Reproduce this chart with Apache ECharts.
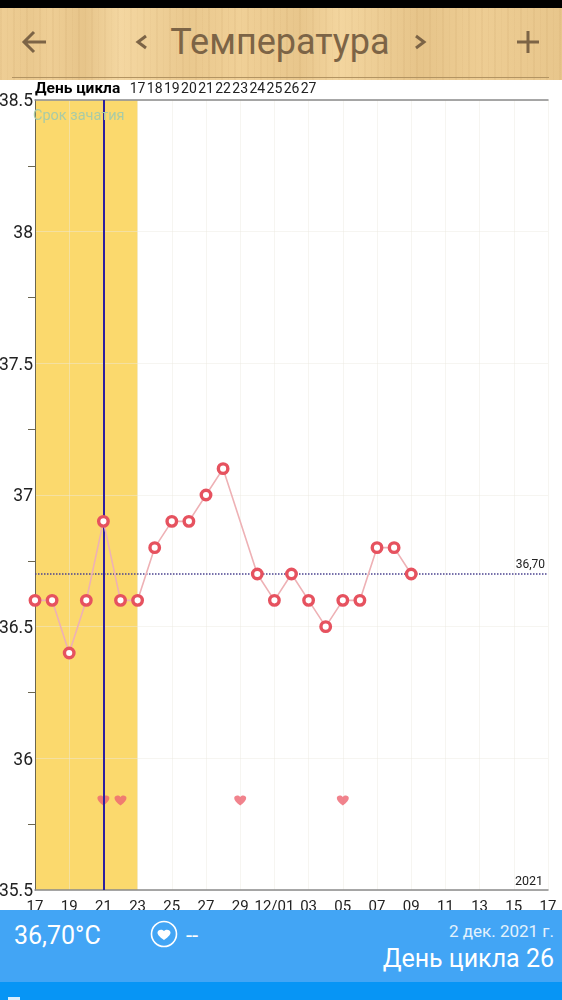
<!DOCTYPE html>
<html>
<head>
<meta charset="utf-8">
<script src="https://cdn.jsdelivr.net/npm/echarts@6/dist/echarts.min.js"></script>
<style>
  html, body { margin: 0; padding: 0; background: #fff; font-family: Roboto, sans-serif; }
  #page { position: relative; width: 562px; height: 1000px; overflow: hidden; }
  #status { position: absolute; left: 0; top: 0; width: 562px; height: 8px; background: #000; }
  #wood {
    position: absolute; left: 0; top: 8px; width: 562px; height: 72px;
    background:
      linear-gradient(90deg, rgba(160,110,40,.02) 0, rgba(160,110,40,.08) 30px, rgba(160,110,40,.02) 50px, rgba(160,110,40,.12) 84px, rgba(255,235,190,.25) 120px, rgba(160,110,40,.08) 190px, rgba(160,110,40,0) 240px, rgba(160,110,40,.1) 300px, rgba(255,235,190,.2) 340px, rgba(160,110,40,.12) 420px, rgba(160,110,40,.03) 480px, rgba(160,110,40,.1) 562px),
      repeating-linear-gradient(90deg, rgba(150,100,40,.06) 0 2px, rgba(150,100,40,0) 2px 7px, rgba(150,100,40,.04) 7px 8px, rgba(150,100,40,0) 8px 13px),
      #f0d097;
  }
  #rule { position: absolute; left: 12px; top: 69px; width: 537px; height: 1px; background: #b39462; }
  #title { position: absolute; left: 0; top: 12px; width: 560px; text-align: center; font-size: 36px; line-height: 44px; color: #7c6446; }
  #wood svg { position: absolute; left: 0; top: 0; }
  #chart { position: absolute; left: 0; top: 80px; width: 562px; height: 840px; }
  #info { position: absolute; left: 0; top: 910px; width: 562px; height: 72px; background: #42a5f5; color: #fff; }
  #temp { position: absolute; left: 14px; top: 10px; font-size: 25px; line-height: 32px; }
  #info svg { position: absolute; left: 150px; top: 10px; }
  #mood { position: absolute; left: 186px; top: 10px; font-size: 22px; line-height: 32px; }
  #date { position: absolute; right: 8px; top: 10px; font-size: 17px; line-height: 22px; color: #e3f2fd; }
  #cycle { position: absolute; right: 8px; top: 33px; font-size: 25px; line-height: 32px; }
  #strip { position: absolute; left: 0; top: 982px; width: 562px; height: 18px; background: #0795f5; }
  #stub { position: absolute; left: 8px; top: 15px; width: 12px; height: 3px; background: #d8eefd; }
</style>
</head>
<body>
<div id="page">
  <div id="chart"></div>
  <div id="status"></div>
  <div id="wood">
    <div id="rule"></div>
    <div id="title">Температура</div>
    <svg width="562" height="72" fill="none" stroke="#7c6446" stroke-width="3">
      <path d="M46 34H24M34 24L24 34L34 44"/>
      <path d="M146 28L138 34L146 40"/>
      <path d="M416 28L424 34L416 40"/>
      <path d="M517 34H539M528 23V45"/>
    </svg>
  </div>
  <div id="info">
    <div id="temp">36,70°C</div>
    <svg width="28" height="28" viewBox="0 0 28 28">
      <circle cx="14" cy="14" r="12.5" fill="none" stroke="#fff" stroke-width="1.6"/>
      <path d="M14 20C9 16.5 7.5 14.5 7.5 12.5C7.5 10 11.5 8.500 14 11C16.500 8.500 20.500 10 20.500 12.500C20.500 14.500 19 16.500 14 20Z" fill="#fff"/>
    </svg>
    <div id="mood">--</div>
    <div id="date">2 дек. 2021 г.</div>
    <div id="cycle">День цикла 26</div>
  </div>
  <div id="strip"><div id="stub"></div></div>
</div>
<script>
// calendar days, 17 Nov - 17 Dec 2021
const days = ["17", "18", "19", "20", "21", "22", "23", "24", "25", "26", "27", "28", "29", "30",
  "12/01", "02", "03", "04", "05", "06", "07", "08", "09", "10", "11", "12", "13", "14", "15", "16", "17"];
// cycle day shown along the top, empty where the app shows nothing
const cycleDays = ["", "", "", "", "", "", "17", "18", "19", "20", "21", "22", "23", "24", "25", "26", "27",
  "", "", "", "", "", "", "", "", "", "", "", "", "", ""];
// temperature per day, null = not measured
const temps = [36.6, 36.6, 36.4, 36.6, 36.9, 36.6, 36.6, 36.8, 36.9, 36.9, 37.0, 37.1, null, 36.7,
  36.6, 36.7, 36.6, 36.5, 36.6, 36.6, 36.8, 36.8, 36.7];
const heartDays = [4, 5, 12, 18];
const heartLevel = 35.84;
const coverline = 36.7;
const fertileStart = 0;
const fertileEnd = 6;
const ovulationDay = 4;

const heartPath = "path://M50 90C20 68 4 52 4 32C4 12 34 2 50 24C66 2 96 12 96 32C96 52 80 68 50 90Z";

const chart = echarts.init(document.getElementById("chart"));

chart.setOption({
  animation: false,
  textStyle: { fontFamily: "Roboto" },
  grid: { left: 35, right: 14, top: 20, bottom: 30, outerBoundsMode: "none" },
  graphic: [
    { type: "text", left: 35, top: 1, z: 10, style: { text: "День цикла", font: "bold 15.5px Roboto", fill: "#000" } },
    { type: "text", left: 33, top: 29, z: 10, style: { text: "Срок зачатия", font: "14.5px Roboto", fill: "#a9cba6" } },
    { type: "text", right: 19, top: 795, z: 10, style: { text: "2021", font: "12.5px Roboto", fill: "#222" } }
  ],
  xAxis: [
    {
      type: "category",
      data: days,
      boundaryGap: false,
      z: 2,
      axisLine: { lineStyle: { color: "#8a8a8a", width: 1.5 } },
      axisTick: { show: false },
      axisLabel: { interval: 1, color: "#222", fontSize: 15, margin: 10 },
      splitLine: { show: true, interval: 1, lineStyle: { color: "rgba(236,232,225,.45)", width: 1 } }
    },
    {
      type: "category",
      data: cycleDays,
      position: "top",
      boundaryGap: false,
      z: 2,
      axisLine: { lineStyle: { color: "#8a8a8a", width: 1.5 } },
      axisTick: { show: false },
      axisLabel: { interval: 0, color: "#222", fontSize: 14, margin: 4 },
      splitLine: { show: false }
    }
  ],
  yAxis: {
    type: "value",
    min: 35.5,
    max: 38.5,
    interval: 0.5,
    z: 2,
    axisLine: { show: true, lineStyle: { color: "#6b6650", width: 1 } },
    axisTick: { show: false },
    minorTick: { show: true, splitNumber: 2, length: 7, lineStyle: { color: "#6b6650" } },
    axisLabel: {
      color: "#222",
      fontSize: 17.5,
      margin: 2,
      verticalAlign: "top",
      lineHeight: 4,
      formatter: (v) => String(Math.round(v * 10) / 10)
    },
    splitLine: { show: true, lineStyle: { color: "rgba(236,232,225,.45)", width: 1 } }
  },
  series: [
    {
      name: "fertile",
      type: "line",
      data: [],
      z: 1,
      markArea: {
        silent: true,
        itemStyle: { color: "#fbd96d" },
        data: [[{ xAxis: fertileStart }, { xAxis: fertileEnd }]]
      }
    },
    {
      name: "temperature",
      type: "line",
      data: temps,
      z: 5,
      connectNulls: true,
      clip: false,
      symbol: "circle",
      symbolSize: 9.5,
      showAllSymbol: true,
      lineStyle: { color: "#eeb1b5", width: 1.6 },
      itemStyle: { color: "#fff", borderColor: "#e6525f", borderWidth: 3.4 },
      markLine: {
        silent: true,
        symbol: "none",
        z: 3,
        animation: false,
        data: [
          {
            yAxis: coverline,
            lineStyle: { color: "#4b4390", type: "dotted", width: 1.5 },
            label: {
              show: true,
              position: "insideEndTop",
              formatter: "36,70",
              color: "#222",
              fontSize: 12,
              distance: [3, 3]
            }
          },
          {
            xAxis: ovulationDay,
            lineStyle: { color: "#2c1fa0", type: "solid", width: 2 },
            label: { show: false }
          }
        ]
      }
    },
    {
      name: "hearts",
      type: "scatter",
      z: 2,
      symbol: heartPath,
      symbolSize: [12, 10],
      itemStyle: { color: "#ee6470" },
      data: heartDays.map((d) => [d, heartLevel])
    }
  ]
});
</script>
</body>
</html>
